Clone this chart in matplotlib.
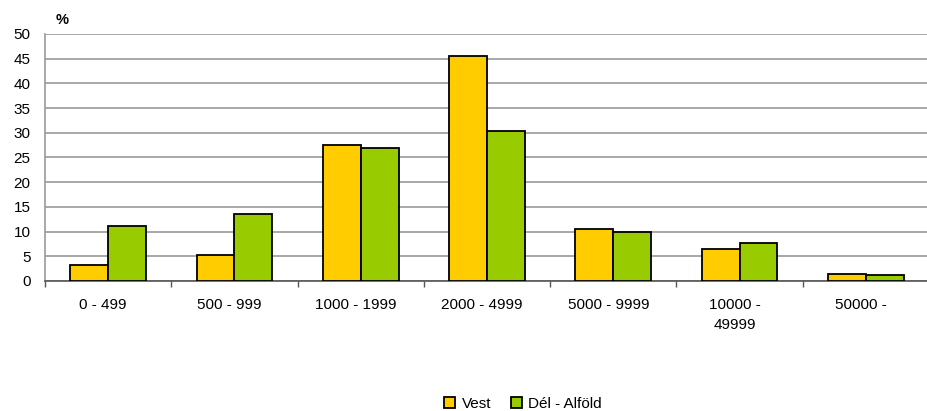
import numpy as np
import matplotlib.pyplot as plt
import matplotlib.transforms as mtransforms

plt.rcParams['font.family'] = ['Liberation Sans', 'DejaVu Sans']

# Adatok
categories = ['0 - 499', '500 - 999', '1000 - 1999', '2000 - 4999',
              '5000 - 9999', '10000 -\n49999', '50000 -']
vest = [3.2, 5.3, 27.5, 45.5, 10.5, 6.5, 1.5]
del_alfold = [11.1, 13.6, 26.9, 30.4, 9.9, 7.7, 1.2]
series_names = ['Vest', 'Dél - Alföld']
colors = ['#FFCC00', '#99CC00']

fig = plt.figure(figsize=(9.27, 4.11), dpi=100)
ax = fig.add_axes([45 / 927, 130 / 411, 884 / 927, 247 / 411])

x = np.arange(len(categories))
w = 0.3
ax.bar(x - w / 2, vest, w, color=colors[0], edgecolor='black', linewidth=1.3,
       label=series_names[0], zorder=3)
ax.bar(x + w / 2, del_alfold, w, color=colors[1], edgecolor='black', linewidth=1.3,
       label=series_names[1], zorder=3)

ax.set_xlim(-0.5, len(categories) - 0.5)
ax.set_ylim(0, 50)
ax.set_yticks(np.arange(0, 51, 5))
ax.yaxis.grid(True, color='#999999', linewidth=1.2, zorder=0)

# kategóriák a tickek között
ax.set_xticks(np.arange(-0.5, len(categories) - 0.5 + 0.01, 1))
ax.set_xticklabels([])
ax.set_xticks(x, minor=True)
ax.set_xticklabels(categories, minor=True, fontsize=11, linespacing=1.55)
ax.tick_params(axis='x', which='minor', length=0, pad=12.5)
ax.tick_params(axis='x', which='major', length=4, color='#555555', width=1)
ax.tick_params(axis='y', length=0, labelsize=11, pad=10.5)

shift = mtransforms.ScaledTranslation(-5 / 100, 0, fig.dpi_scale_trans)
for lab in ax.get_xticklabels(minor=True):
    lab.set_transform(lab.get_transform() + shift)

for s in ['top', 'right']:
    ax.spines[s].set_visible(False)
ax.spines['left'].set_color('#999999')
ax.spines['left'].set_linewidth(1.2)
ax.spines['bottom'].set_color('#555555')
ax.spines['bottom'].set_linewidth(1.2)

fig.text(62 / 927, 1 - 20 / 411, '%', fontsize=10.5, fontweight='bold',
         ha='center', va='center')

fig.legend(loc='center', bbox_to_anchor=(523 / 927, 1 - 404 / 411), ncol=2,
           frameon=False, fontsize=11, handlelength=0.75, handleheight=0.75,
           handletextpad=0.4, columnspacing=1.3)

fig.savefig('out.png', dpi=100)
